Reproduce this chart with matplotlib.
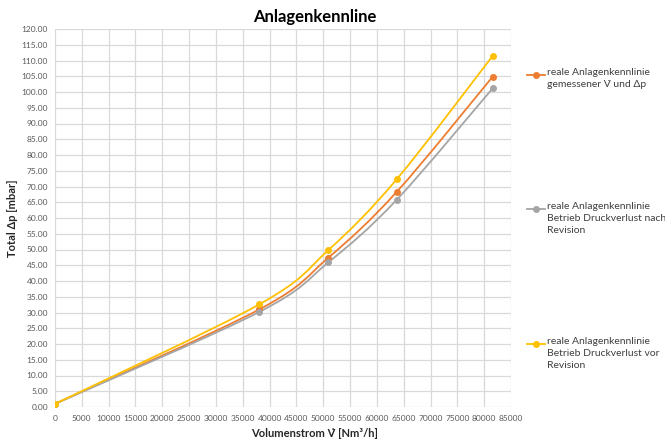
import numpy as np
import matplotlib
matplotlib.use("Agg")
import matplotlib.pyplot as plt
from matplotlib.path import Path
from matplotlib.patches import PathPatch
from matplotlib.lines import Line2D

plt.rcParams['font.family'] = ['Lato', 'DejaVu Sans']

# data
volumenstrom = [0, 38100, 50950, 63700, 81600]
gemessen = [1.0, 31.0, 47.4, 68.3, 104.9]
nach_revision = [1.0, 30.2, 45.9, 65.8, 101.2]
vor_revision = [1.0, 32.6, 49.8, 72.3, 111.5]

labels = ["reale Anlagenkennlinie\ngemessener V\u0307 und \u0394p",
          "reale Anlagenkennlinie\nBetrieb Druckverlust nach\nRevision",
          "reale Anlagenkennlinie\nBetrieb Druckverlust vor\nRevision"]
colors = ["#ED7D31", "#A5A5A5", "#FFC000"]
x_ticks = list(range(0, 85001, 5000))
y_ticks = list(range(0, 121, 5))


def smooth_path(xs, ys):
    # Excel-style smoothed line: cubic bezier through the points
    pts = np.column_stack([xs, ys]).astype(float)
    ext = np.vstack([pts[0], pts, pts[-1]])
    verts = [pts[0]]
    codes = [Path.MOVETO]
    for i in range(len(pts) - 1):
        p0, p1, p2, p3 = ext[i], ext[i + 1], ext[i + 2], ext[i + 3]
        c1 = p1 + (p2 - p0) / 6.0
        c2 = p2 - (p3 - p1) / 6.0
        verts += [c1, c2, p2]
        codes += [Path.CURVE4] * 3
    return Path(verts, codes)


W, H = 665, 441
fig = plt.figure(figsize=(W / 100, H / 100), dpi=100)
ax = fig.add_axes([55 / W, 1 - 407 / H, 456 / W, 378 / H])

for ys, c in zip([gemessen, nach_revision, vor_revision], colors):
    ax.add_patch(PathPatch(smooth_path(volumenstrom, ys), fill=False,
                           edgecolor=c, lw=1.3, zorder=3))
    ax.plot(volumenstrom, ys, ls='none', marker='o', ms=4, color=c, zorder=4)

ax.set_xlim(0, 85000)
ax.set_ylim(0, 120)
ax.set_xticks(x_ticks)
ax.set_yticks(y_ticks)
ax.set_xticklabels([str(v) for v in x_ticks])
ax.set_yticklabels([f"{v:.2f}" for v in y_ticks])
ax.tick_params(length=0, labelsize=6, labelcolor="#595959")
ax.tick_params(axis='x', pad=6)
ax.tick_params(axis='y', pad=5)
ax.grid(True, color="#D9D9D9", lw=0.9)
ax.set_axisbelow(True)
for s in ax.spines.values():
    s.set_visible(False)

ax.set_xlabel("Volumenstrom V\u0307 [Nm\u00b3/h]", fontsize=8, fontweight='bold',
              color="#262626")
ax.set_ylabel("Total \u0394p [mbar]", fontsize=8, fontweight='bold',
              color="#262626")
ax.xaxis.set_label_coords((315 - 55) / 456, -(428 - 407) / 378)
ax.yaxis.set_label_coords(-(55 - 18) / 456, (407 - 218) / 378)

fig.text(315 / W, 1 - 17 / H, "Anlagenkennline", ha='center', va='center',
         fontsize=12, fontweight='bold', color="#000000")

# legend entries spread down the right side, marker level with first line
legend_y = [75, 209, 344]
for c, lab, yy in zip(colors, labels, legend_y):
    fig.add_artist(Line2D([527 / W, 545 / W], [1 - yy / H] * 2, color=c, lw=1.3))
    fig.add_artist(Line2D([536 / W], [1 - yy / H], color=c, marker='o', ms=4))
    fig.text(547 / W, 1 - (yy - 7) / H, lab, ha='left', va='top',
             fontsize=7.5, color="#404040", linespacing=1.45)

fig.savefig("out.png", dpi=100)
